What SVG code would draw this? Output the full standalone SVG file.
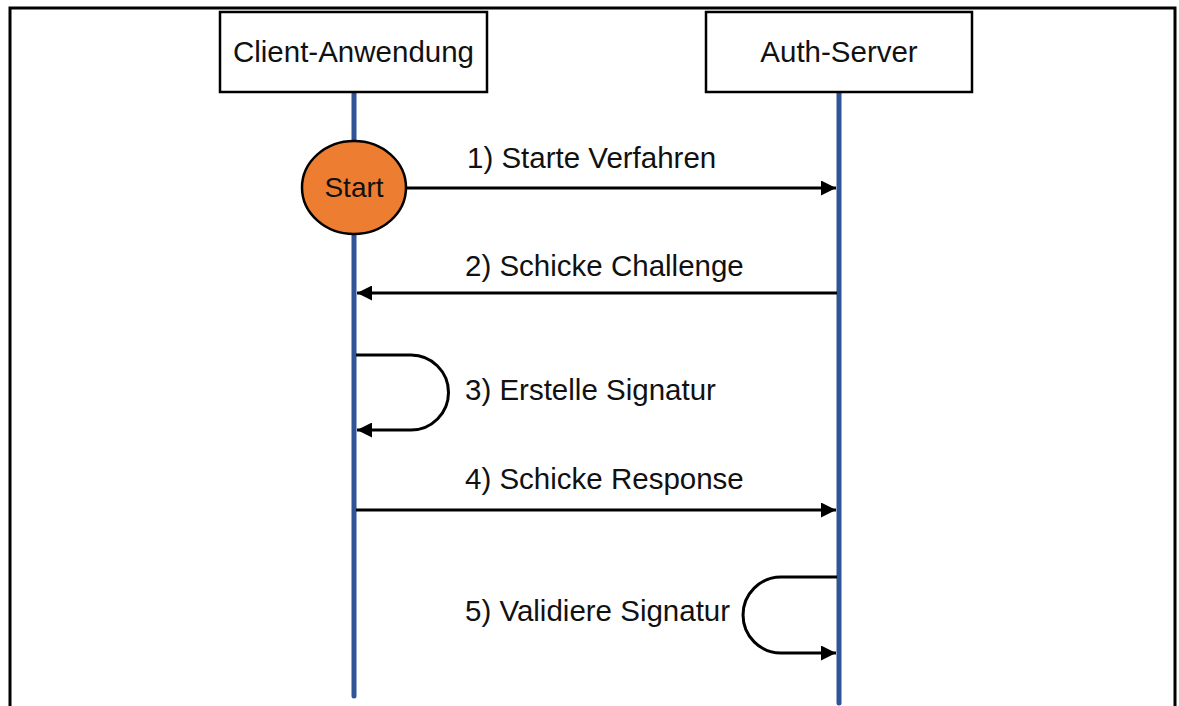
<svg xmlns="http://www.w3.org/2000/svg" width="1179" height="706" viewBox="0 0 1179 706">
<defs>
<style>
.box{fill:#fff;stroke:#000;stroke-width:2.5}
.life{stroke:#2F5597;stroke-width:5;stroke-linecap:round;fill:none}
.msg{stroke:#000;stroke-width:3;fill:none}
text{font-family:"Liberation Sans",Arial,sans-serif;font-size:29.5px;fill:#111}
.c{text-anchor:middle}
</style>
<marker id="ah" viewBox="0 0 10 10" refX="10" refY="5" markerWidth="5" markerHeight="5" markerUnits="strokeWidth" orient="auto">
<path d="M0,0 L10,5 L0,10 Z" fill="#000"/>
</marker>
</defs>
<rect width="1179" height="706" fill="#fff"/>
<path d="M10,706 V8 H1175 V706" fill="none" stroke="#000" stroke-width="3"/>
<g id="lifelines">
<line class="life" x1="354" y1="92" x2="354" y2="696"/>
<line class="life" x1="839" y1="92" x2="839" y2="703"/>
</g>
<g id="client">
<rect class="box" x="220" y="12" width="267" height="80"/>
<text class="c" x="353.5" y="62">Client-Anwendung</text>
</g>
<g id="server">
<rect class="box" x="706" y="12" width="266" height="80"/>
<text class="c" x="839" y="62">Auth-Server</text>
</g>
<g id="start">
<ellipse cx="354" cy="187.5" rx="52" ry="46.5" fill="#ED7D31" stroke="#000" stroke-width="2.5"/>
<text class="c" x="354" y="197" style="font-size:28px">Start</text>
</g>
<g id="connectors">
<line class="msg" x1="406" y1="188" x2="836" y2="188" marker-end="url(#ah)"/>
<line class="msg" x1="837" y1="293" x2="357" y2="293" marker-end="url(#ah)"/>
<path class="msg" d="M356,355 H411 A37.5,37.5 0 0 1 411,430 H357" marker-end="url(#ah)"/>
<line class="msg" x1="356" y1="510" x2="836" y2="510" marker-end="url(#ah)"/>
<path class="msg" d="M837,577 H781 A38,38 0 0 0 781,653 H836" marker-end="url(#ah)"/>
</g>
<g id="labels">
<text x="467" y="168">1) Starte Verfahren</text>
<text x="465" y="276">2) Schicke Challenge</text>
<text x="465" y="400">3) Erstelle Signatur</text>
<text x="465" y="489">4) Schicke Response</text>
<text x="465" y="621">5) Validiere Signatur</text>
</g>
</svg>
